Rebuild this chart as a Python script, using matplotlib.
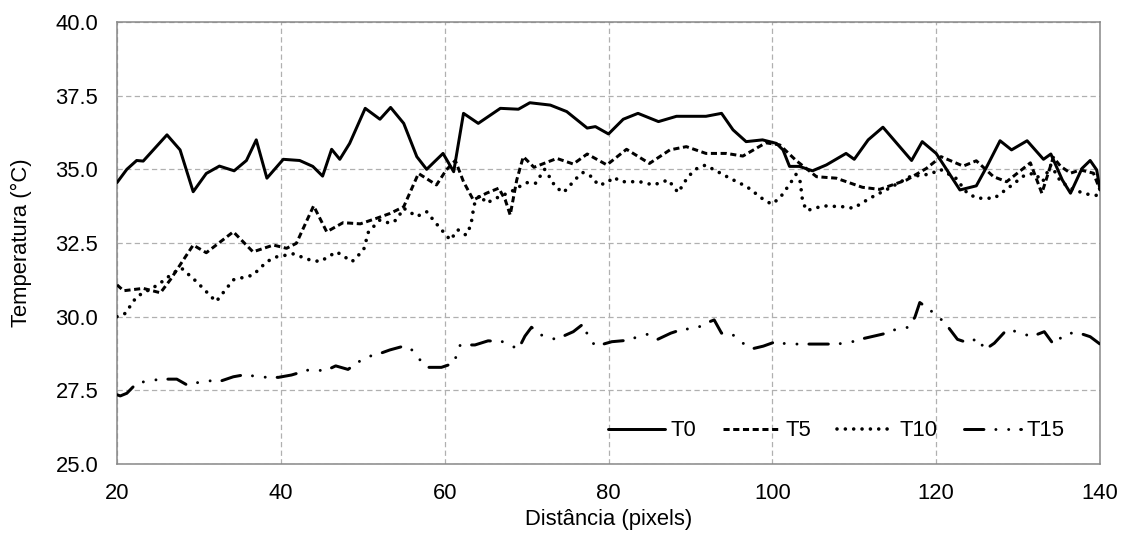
import matplotlib
matplotlib.use("Agg")
import matplotlib.pyplot as plt
from matplotlib.ticker import FormatStrFormatter, MultipleLocator

plt.rcParams['font.family'] = ['Liberation Sans', 'DejaVu Sans']
plt.rcParams['lines.scale_dashes'] = False

# ---- data ----
t0_x = [20, 21.2, 22.4, 23.2, 26.1, 27.7, 29.3, 30.9, 32.5, 34.3, 35.8, 37.0, 38.3,
        40.3, 42.3, 43.9, 45.1, 46.2, 47.2, 48.4, 50.3, 52.1, 53.4, 55.0, 56.6, 57.8,
        59.8, 61.1, 62.3, 64.1, 66.8, 69.0, 70.4, 72.9, 74.9, 77.4, 78.4, 80.0, 81.8,
        83.6, 86.1, 88.3, 91.9, 93.8, 95.2, 96.8, 98.8, 100.5, 101.3, 102.1, 103.3,
        104.9, 106.6, 109.0, 110.0, 111.7, 113.5, 117.0, 118.3, 120.0, 122.9, 124.9,
        126.2, 127.8, 129.2, 131.1, 133.1, 134.0, 135.4, 136.4, 137.8, 138.8, 139.6, 140]
t0_y = [34.55, 35.0, 35.3, 35.28, 36.17, 35.66, 34.24, 34.86, 35.11, 34.95, 35.3, 36.0, 34.7,
        35.34, 35.3, 35.1, 34.77, 35.68, 35.34, 35.88, 37.07, 36.7, 37.1, 36.56, 35.43, 35.0,
        35.54, 34.92, 36.9, 36.56, 37.07, 37.04, 37.26, 37.18, 36.96, 36.4, 36.45, 36.2, 36.7,
        36.9, 36.62, 36.8, 36.8, 36.9, 36.34, 35.94, 36.0, 35.88, 35.66, 35.1, 35.1,
        34.95, 35.15, 35.54, 35.34, 36.0, 36.43, 35.3, 35.94, 35.54, 34.3, 34.44,
        35.1, 35.97, 35.66, 35.97, 35.34, 35.52, 34.64, 34.19, 35.03, 35.3, 34.98, 34.3]

t5_x = [20, 20.8, 23.2, 25.3, 26.5, 29.3, 30.9, 34.2, 36.6, 39.1, 40.7, 41.9, 44.0, 45.6,
        47.6, 49.7, 51.7, 53.3, 55.0, 56.8, 59.0, 60.2, 61.3, 62.3, 63.5, 65.1, 66.6, 67.4,
        68.0, 68.8, 69.6, 70.9, 73.7, 75.7, 77.4, 79.8, 82.2, 85.0, 87.5, 89.5, 91.9, 94.4,
        96.4, 99.2, 100.9, 102.9, 105.4, 107.8, 111.0, 113.1, 116.4, 118.8, 120.6, 123.3,
        124.9, 127.0, 128.6, 131.5, 132.9, 134.3, 135.2, 136.4, 137.6, 139.2, 140]
t5_y = [31.08, 30.88, 30.96, 30.81, 31.25, 32.43, 32.17, 32.88, 32.2, 32.43, 32.32, 32.49, 33.76, 32.88,
        33.19, 33.15, 33.34, 33.5, 33.73, 34.86, 34.47, 34.98, 35.3, 34.58, 33.96, 34.19, 34.36, 33.96,
        33.45, 34.64, 35.43, 35.07, 35.37, 35.18, 35.52, 35.15, 35.68, 35.2, 35.66, 35.77, 35.54, 35.54,
        35.45, 35.9, 35.83, 35.3, 34.75, 34.7, 34.39, 34.32, 34.64, 35.03, 35.43, 35.11,
        35.29, 34.75, 34.58, 35.22, 34.19, 35.41, 35.1, 34.87, 34.98, 34.87, 34.3]

t10_x = [20, 21.0, 22.4, 25.0, 26.9, 27.9, 29.7, 32.1, 34.2, 36.6, 38.3, 39.5, 41.5, 43.6,
         44.8, 46.8, 48.7, 50.1, 50.7, 52.1, 53.3, 54.1, 55.0, 56.6, 57.8, 59.3, 60.7, 61.6,
         62.6, 63.2, 63.6, 64.3, 65.1, 66.1, 68.1, 69.1, 70.1, 71.1, 72.2, 72.9, 73.5, 74.5,
         76.1, 76.9, 78.1, 78.7, 79.8, 80.6, 81.6, 83.8, 85.5, 87.3, 88.5, 89.7, 90.8, 91.8,
         92.8, 94.8, 96.9, 98.9, 99.9, 100.9, 102.2, 102.9, 103.4, 103.7, 104.2, 106.2,
         108.7, 109.9, 111.9, 114.0, 116.8, 119.3, 120.5, 122.4, 123.8, 125.0, 127.1,
         128.9, 130.8, 132.0, 133.0, 134.0, 135.2, 136.8, 138.4, 140]
t10_y = [30.0, 30.11, 30.68, 31.08, 31.49, 31.64, 31.19, 30.51, 31.25, 31.41, 31.87, 32.03, 32.13, 31.92,
         31.87, 32.2, 31.87, 32.26, 32.88, 33.28, 33.17, 33.28, 33.68, 33.4, 33.56, 33.05, 32.6, 32.95,
         32.77, 33.1, 33.8, 34.13, 33.85, 34.0, 34.24, 34.41, 34.55, 34.53, 35.0, 34.7, 34.41, 34.21,
         34.7, 34.89, 34.73, 34.47, 34.53, 34.73, 34.58, 34.58, 34.47, 34.64, 34.21, 34.75, 35.03, 35.14,
         35.0, 34.7, 34.41, 33.98, 33.82, 34.02, 34.53, 34.83, 34.58, 33.9, 33.6, 33.76,
         33.73, 33.68, 34.02, 34.32, 34.75, 34.84, 35.0, 34.7, 34.19, 34.02, 34.02,
         34.39, 34.8, 34.87, 34.58, 35.15, 34.58, 34.3, 34.16, 34.1]

t15_x = [20, 20.4, 21.2, 22.4, 24.0, 25.5, 27.3, 28.5, 29.5, 30.9, 32.5, 34.2, 35.4, 36.6,
         38.3, 39.7, 41.3, 43.6, 45.4, 46.7, 48.2, 50.3, 51.9, 53.3, 55.0, 56.0, 57.0, 58.0,
         59.6, 61.1, 61.9, 63.7, 65.3, 67.1, 69.0, 69.8, 70.6, 72.0, 73.6, 75.7, 76.9, 77.7,
         78.5, 80.4, 82.0, 83.7, 84.7, 86.0, 87.6, 89.0, 90.7, 91.9, 92.9, 93.8, 95.2, 96.4,
         97.7, 98.9, 100.4, 101.8, 103.4, 106.2, 107.8, 109.4, 111.0, 113.5, 115.1, 116.6,
         117.4, 118.0, 118.6, 120.0, 121.1, 122.6, 123.8, 125.2, 125.9, 127.1, 128.6, 130.0,
         131.6, 133.2, 134.3, 135.9, 137.5, 138.8, 140]
t15_y = [27.35, 27.31, 27.4, 27.74, 27.83, 27.88, 27.88, 27.69, 27.74, 27.83, 27.8, 27.96, 28.02, 27.99,
         27.94, 27.94, 28.02, 28.21, 28.16, 28.33, 28.21, 28.62, 28.73, 28.87, 29.0, 28.87, 28.53, 28.28,
         28.28, 28.42, 29.04, 29.04, 29.18, 29.15, 28.9, 29.34, 29.64, 29.34, 29.23, 29.49, 29.75, 29.21,
         29.0, 29.15, 29.19, 29.32, 29.4, 29.23, 29.44, 29.57, 29.6, 29.78, 29.89, 29.44, 29.38, 29.1,
         28.92, 29.0, 29.15, 29.07, 29.07, 29.07, 29.07, 29.12, 29.25, 29.41, 29.57, 29.64,
         29.98, 30.48, 30.36, 30.06, 29.78, 29.23, 29.12, 29.27, 28.87, 29.1, 29.55, 29.49,
         29.32, 29.49, 29.07, 29.44, 29.44, 29.32, 29.07]

labels = ['T0', 'T5', 'T10', 'T15']
x_ticks = [20, 40, 60, 80, 100, 120, 140]

# ---- figure ----
W, H = 1124, 538
fig = plt.figure(figsize=(W / 100, H / 100), dpi=100)
ax = fig.add_axes([117 / W, (H - 464) / H, 983 / W, 442 / H])

lw = 2.15
common = dict(color='black', solid_joinstyle='round', solid_capstyle='round', zorder=5)
ax.plot(t0_x, t0_y, lw=lw, label=labels[0], **common)
ax.plot(t5_x, t5_y, lw=lw, linestyle=(0, (4.4, 2.6)),
        dash_capstyle='butt', dash_joinstyle='round', label=labels[1], **common)
ax.plot(t10_x, t10_y, lw=2.6, linestyle=(0, (0.01, 6.0)),
        dash_capstyle='round', label=labels[2], **common)
ax.plot(t15_x, t15_y, lw=lw, linestyle=(0, (14.0, 8.6, 0.01, 9.2, 0.01, 8.6)),
        dash_capstyle='round', dash_joinstyle='round', label=labels[3], **common)

ax.set_xlim(20, 140)
ax.set_ylim(25, 40)
ax.set_xticks(x_ticks)
ax.yaxis.set_major_locator(MultipleLocator(2.5))
ax.yaxis.set_major_formatter(FormatStrFormatter('%.1f'))

fs = 15.8
ax.tick_params(axis='both', length=0, labelsize=fs, colors='black')
ax.tick_params(axis='x', pad=13.5)
ax.tick_params(axis='y', pad=13.5)

ax.grid(True, color='#b0b0b0', linestyle=(0, (3.8, 2.4)), linewidth=0.9, zorder=0)
ax.set_axisbelow(True)
for s in ax.spines.values():
    s.set_color('#888888')
    s.set_linewidth(1.1)

ax.set_xlabel('Distância (pixels)', fontsize=fs)
ax.set_ylabel('Temperatura (°C)', fontsize=fs)
ax.xaxis.set_label_coords(0.5, -0.102)
ax.yaxis.set_label_coords(-0.0865, 0.5)

leg = ax.legend(loc='center left', bbox_to_anchor=(0.4995, 0.075), ncol=4, frameon=False,
                fontsize=fs, handlelength=2.6, handletextpad=0.25, columnspacing=1.2,
                borderpad=0, borderaxespad=0)

fig.savefig('out.png', dpi=100)
